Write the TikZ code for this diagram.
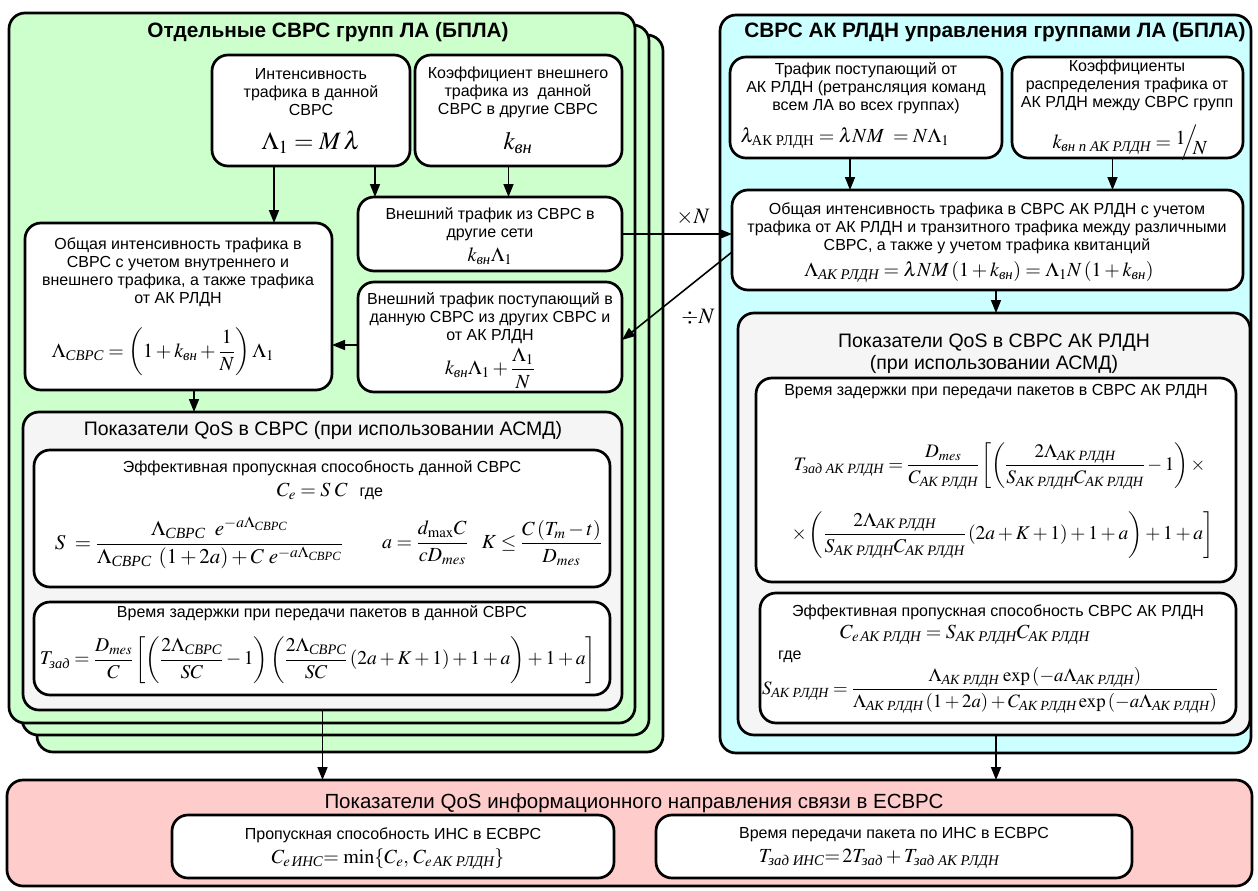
\documentclass[tikz,border=0pt]{standalone}
\usepackage{amsmath}
\usepackage{graphicx}
\usepackage{mathptmx}
\usepackage[no-math]{fontspec}
\setmainfont{Liberation Sans}
\newfontfamily\tnr{Liberation Serif}
\usetikzlibrary{fit,arrows.meta,calc}
\newcommand{\cy}[1]{\text{\tnr\itshape #1}}
\newcommand{\cyu}[1]{\text{\tnr #1}}
\newcommand{\mk}[6]{\node[#6, fit={(#2,#3) (#4,#5)}] (#1) {};}
\definecolor{grn}{HTML}{CCFFCC}
\definecolor{cyn}{HTML}{CCFFFF}
\definecolor{pnk}{HTML}{FFCCCC}
\definecolor{gry}{HTML}{F5F5F5}
\tikzset{
 frame/.style={draw=black, line width=2.7pt, rounded corners=16pt, inner sep=0pt, outer sep=0pt},
 gbox/.style={frame, fill=grn},
 cbox/.style={frame, fill=cyn},
 rbox/.style={frame, fill=pnk},
 qbox/.style={frame, fill=gry},
 wbox/.style={frame, fill=white},
 txt/.style={align=center, font=\fontsize{16}{18}\selectfont, inner sep=0pt},
 ttl/.style={align=center, font=\fontsize{20.8}{24}\selectfont\bfseries, inner sep=0pt},
 sub/.style={align=center, font=\fontsize{19.5}{22}\selectfont, inner sep=0pt},
 fm/.style={inner sep=0pt, font=\fontsize{20}{24}\selectfont},
 fmbig/.style={inner sep=0pt, font=\fontsize{25}{28}\selectfont},
 arr/.style={line width=1.6pt, -{Triangle[length=13pt,width=10pt]}},
}
\begin{document}
\begin{tikzpicture}[x=1pt,y=-1pt]
\useasboundingbox (0,0) rectangle (1258,891);
% ---------- left stack ----------
\mk{g3}{37}{35}{663}{752}{gbox}
\mk{g2}{22}{25}{649}{735}{gbox}
\mk{g1}{9}{13}{635}{723}{gbox}
\node[ttl] (t1) at (328,32) {Отдельные СВРС групп ЛА (БПЛА)};
\mk{A}{212}{55}{410}{166}{wbox}
\node[txt] (tA) at (311,92) {Интенсивность\\трафика в данной\\СВРС};
\node[fmbig] (fA) at (311,142) {$\Lambda_1 = M\,\lambda$};
\mk{B}{415}{55}{622}{166}{wbox}
\node[txt] (tB) at (518,92) {Коэффициент внешнего\\трафика из\ \ данной\\СВРС в другие СВРС};
\node[fmbig] (fB) at (518,143) {$k_{\cy{вн}}$};
\mk{C}{358}{197}{622}{271}{wbox}
\node[txt] (tC) at (490,224) {Внешний трафик из СВРС в\\другие сети};
\node[fm] (fC) at (490,256) {$k_{\cy{вн}}\Lambda_1$};
\mk{D}{358}{282}{622}{392}{wbox}
\node[txt] (tD) at (490,318) {Внешний трафик поступающий в\\данную СВРС из других СВРС и\\от АК РЛДН};
\node[fm] (fD) at (490,368) {$k_{\cy{вн}}\Lambda_1+\dfrac{\Lambda_1}{N}$};
\mk{E}{25}{223}{332}{390}{wbox}
\node[txt] (tE) at (178,272) {Общая интенсивность трафика в\\СВРС с учетом внутреннего и\\внешнего трафика, а также трафика\\от АК РЛДН};
\node[fm] (fE) at (163,352) {$\Lambda_{\cy{СВРС}}=\left(1+k_{\cy{вн}}+\dfrac{1}{N}\right)\Lambda_1$};
\mk{F}{23}{412}{622}{710}{qbox}
\node[sub] (tF) at (323,430) {Показатели QoS в СВРС (при использовании АСМД)};
\mk{G}{34}{450}{610}{587}{wbox}
\node[txt] (tG) at (322,468) {Эффективная пропускная способность данной СВРС};
\node[fm] (fG1) at (330,491) {$C_e = S\;C$\hspace{12pt}{\fontsize{16}{18}\selectfont где}};
\node[fm] (fG2) at (199,543) {\resizebox{288pt}{!}{$S\;=\dfrac{\Lambda_{\cy{СВРС}}\;\;e^{-a\Lambda_{\cy{СВРС}}}}{\Lambda_{\cy{СВРС}}\;\left(1+2a\right)+C\;e^{-a\Lambda_{\cy{СВРС}}}}$}};
\node[fm] (fG3) at (425,543) {$a=\dfrac{d_{\max}C}{cD_{mes}}$};
\node[fm] (fG4) at (542,543) {$K\le\dfrac{C\left(T_m-t\right)}{D_{mes}}$};
\mk{H}{34}{602}{610}{695}{wbox}
\node[txt] (tH) at (322,613) {Время задержки при передачи пакетов в данной СВРС};
\node[fm] (fH) at (318,660) {\resizebox{556pt}{!}{$T_{\cy{зад}}=\dfrac{D_{mes}}{C}\left[\left(\dfrac{2\Lambda_{\cy{СВРС}}}{SC}-1\right)\left(\dfrac{2\Lambda_{\cy{СВРС}}}{SC}\left(2a+K+1\right)+1+a\right)+1+a\right]$}};
% ---------- right ----------
\mk{R}{720}{15}{1251}{753}{cbox}
\node[ttl] (t2) at (995,32) {СВРС АК РЛДН управления группами ЛА (БПЛА)};
\mk{I}{730}{57}{1002}{158}{wbox}
\node[txt] (tI) at (866,88) {Трафик поступающий от\\АК РЛДН (ретрансляция команд\\всем ЛА во всех группах)};
\node[fm] (fI) at (845,138) {$\lambda_{\cyu{АК РЛДН}}=\lambda NM\;=N\Lambda_1$};
\mk{J}{1012}{57}{1243}{158}{wbox}
\node[txt] (tJ) at (1127,85) {Коэффициенты\\распределения трафика от\\АК РЛДН между СВРС групп};
\node[fm] (fJ) at (1130,143) {$k_{\cy{вн п АК РЛДН}}=\raisebox{4pt}{$1$}\!\!\Big/\!\!\raisebox{-6pt}{$N$}$};
\mk{K}{732}{190}{1243}{290}{wbox}
\node[txt] (tK) at (987,228) {Общая интенсивность трафика в СВРС АК РЛДН с учетом\\трафика от АК РЛДН и транзитного трафика между различными\\СВРС, а также у учетом трафика квитанций};
\node[fm] (fK) at (979,272) {$\Lambda_{\cy{АК РЛДН}}=\lambda NM\left(1+k_{\cy{вн}}\right)=\Lambda_1N\left(1+k_{\cy{вн}}\right)$};
\mk{L}{738}{313}{1250}{735}{qbox}
\node[sub] (tL) at (994,354) {Показатели QoS в СВРС АК РЛДН\\(при использовании АСМД)};
\mk{M}{756}{378}{1236}{582}{wbox}
\node[txt] (tM) at (996,392) {Время задержки при передачи пакетов в СВРС АК РЛДН};
\node[fm] (fM1) at (1000,466) {\resizebox{413pt}{!}{$T_{\cy{зад АК РЛДН}}=\dfrac{D_{mes}}{C_{\cy{АК РЛДН}}}\left[\left(\dfrac{2\Lambda_{\cy{АК РЛДН}}}{S_{\cy{АК РЛДН}}C_{\cy{АК РЛДН}}}-1\right)\times\right.$}};
\node[fm] (fM2) at (1002,535) {\resizebox{423pt}{!}{$\left.\times\left(\dfrac{2\Lambda_{\cy{АК РЛДН}}}{S_{\cy{АК РЛДН}}C_{\cy{АК РЛДН}}}\left(2a+K+1\right)+1+a\right)+1+a\right]$}};
\mk{N}{760}{593}{1236}{723}{wbox}
\node[txt] (tN) at (998,612) {Эффективная пропускная способность СВРС АК РЛДН};
\node[fm] (fN1) at (965,635) {$C_{e\,\cy{АК РЛДН}}=S_{\cy{АК РЛДН}}C_{\cy{АК РЛДН}}$};
\node[txt, anchor=west] (tN2) at (778,657) {где};
\node[fm] (fN2) at (990,690) {\resizebox{456pt}{!}{$S_{\cy{АК РЛДН}}=\dfrac{\Lambda_{\cy{АК РЛДН}}\,\exp\left(-a\Lambda_{\cy{АК РЛДН}}\right)}{\Lambda_{\cy{АК РЛДН}}\left(1+2a\right)+C_{\cy{АК РЛДН}}\exp\left(-a\Lambda_{\cy{АК РЛДН}}\right)}$}};
% ---------- bottom ----------
\mk{Q}{7}{780}{1252}{886}{rbox}
\node[sub, font=\fontsize{20.5}{24}\selectfont] (tQ) at (634,803) {Показатели QoS информационного направления связи в ЕСВРС};
\mk{O}{172}{815}{614}{878}{wbox}
\node[txt] (tO) at (393,835) {Пропускная способность ИНС в ЕСВРС};
\node[fm] (fO) at (388,859) {$C_{e\,\cy{ИНС}}{=}\,\min\{C_e,\,C_{e\,\cy{АК РЛДН}}\}$};
\mk{P}{656}{815}{1132}{878}{wbox}
\node[txt] (tP) at (894,835) {Время передачи пакета по ИНС в ЕСВРС};
\node[fm] (fP) at (879,859) {$T_{\cy{зад ИНС}}{=}\,2T_{\cy{зад}}+T_{\cy{зад АК РЛДН}}$};
% ---------- labels ----------
\node[fm, font=\fontsize{22}{24}\selectfont] (xN) at (693,217) {$\times N$};
\node[fm, font=\fontsize{22}{24}\selectfont] (dN) at (698,317) {$\div N$};
% ---------- connectors ----------
\coordinate (a1) at ([xshift=-37pt]A.south);
\coordinate (a2) at ([xshift=64pt]A.south);
\coordinate (b1) at ([xshift=-10pt]B.south);
\coordinate (d1) at ([yshift=-8pt]D.west);
\coordinate (e1) at ([xshift=15.5pt]E.south);
\coordinate (i1) at ([xshift=-16pt]I.south);
\coordinate (j1) at ([xshift=-15pt]J.south);
\coordinate (k1) at ([xshift=8.5pt]K.south);
\coordinate (k2) at ([yshift=-12pt]K.west);
\draw[arr] (a1) -- (a1 |- E.north);
\draw[arr] (a2) -- (a2 |- C.north);
\draw[arr] (b1) -- (b1 |- C.north);
\draw[arr] (d1) -- (d1 -| E.east);
\draw[arr] (e1) -- (e1 |- F.north);
\draw[arr] (C.east) -- (C.east -| K.west);
\draw[arr] (k2) -- ([yshift=-3pt]D.east);
\draw[arr] (i1) -- (i1 |- K.north);
\draw[arr] (j1) -- (j1 |- K.north);
\draw[arr] (k1) -- (k1 |- L.north);
\draw[arr] (F.south) -- (F.south |- Q.north);
\draw[arr] (k1 |- L.south) -- (k1 |- Q.north);
\end{tikzpicture}
\end{document}
